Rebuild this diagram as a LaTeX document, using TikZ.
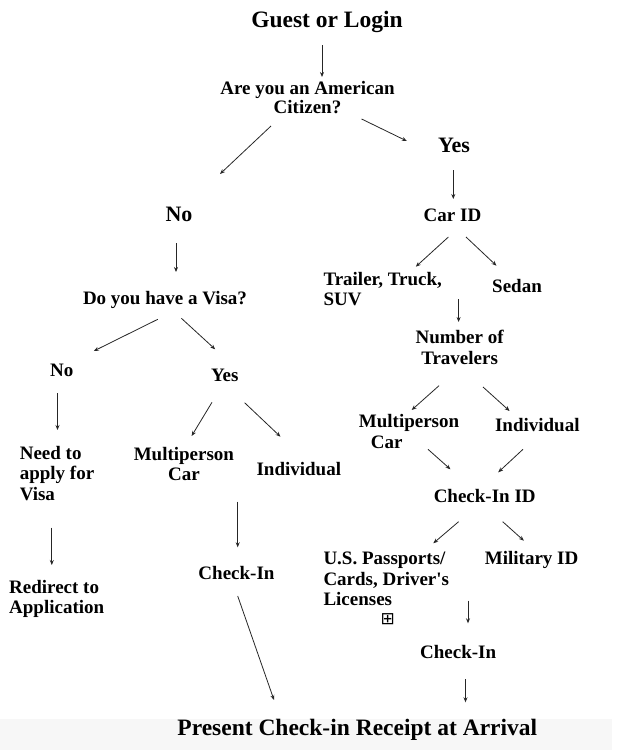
\documentclass[tikz,border=0pt]{standalone}
\usepackage{fontspec}
\setmainfont{Liberation Serif}
\newfontfamily\symfont{DejaVu Sans}
\usetikzlibrary{arrows.meta}
\tikzset{
  x=1pt,y=-1pt,
  lbl/.style={inner sep=0pt,anchor=base,font=\fontsize{19}{20.5}\selectfont\bfseries,align=center},
  lbll/.style={lbl,anchor=base west,align=left},
  big/.style={lbl,font=\fontsize{22}{24}\selectfont\bfseries},
  title/.style={lbl,font=\fontsize{23.5}{26}\selectfont\bfseries},
  arrow/.style={draw=black!85,line width=0.8pt,-{Stealth[length=5pt,width=4pt]}}
}
\newcommand\arrw[3]{\coordinate (#1s) at #2; \coordinate (#1e) at #3; \draw[arrow] (#1s) -- (#1e);}
\begin{document}
\begin{tikzpicture}
\useasboundingbox (0,0) rectangle (639,750);
\fill[black!3] (0,719) rectangle (612,750);
% nodes (multi-line nodes are placed at the baseline of their last line)
\node[title] (guest) at (327,27.5) {Guest or Login};
\node[lbl,font=\fontsize{19}{19.5}\selectfont\bfseries] (amer) at (307.5,113.5) {Are you an American\\Citizen?};
\node[big] (yes1) at (454,152.5) {Yes};
\node[big] (no1) at (179,221.5) {No};
\node[lbl] (carid) at (452.5,221.5) {Car ID};
\node[lbl] (visa) at (165,304) {Do you have a Visa?};
\node[lbll,font=\fontsize{19}{20}\selectfont\bfseries] (trailer) at (323.3,305.7) {Trailer, Truck,\\SUV};
\node[lbl] (sedan) at (517,292.3) {Sedan};
\node[lbl] (number) at (459.6,364) {Number of\\Travelers};
\node[lbll] (multiR) at (358.7,448.3) {Multiperson\\\hspace*{12pt}Car};
\node[lbl] (indivR) at (537.3,431.7) {Individual};
\node[lbl] (checkid) at (484.7,502.3) {Check-In ID};
\node[lbl] (no2) at (61.8,376) {No};
\node[lbl] (yes2) at (224.8,381) {Yes};
\node[lbll] (need) at (19.6,500) {Need to\\apply for\\Visa};
\node[lbl] (multiL) at (183.9,480.7) {Multiperson\\Car};
\node[lbl] (indivL) at (298.8,475) {Individual};
\node[lbll] (redirect) at (9,613.7) {Redirect to\\Application};
\node[lbl] (checkinL) at (236.5,579.3) {Check-In};
\node[lbll] (uspass) at (323.3,605.5) {U.S. Passports/\\Cards, Driver\textquotesingle s\\Licenses};
\node[lbl] (military) at (531.6,564) {Military ID};
\node[inner sep=0pt,font=\fontsize{17}{17}\symfont] (boxsym) at (387.8,619.3) {⊞};
\node[lbl] (checkinR) at (458.2,658.3) {Check-In};
\node[title] (present) at (357.3,735) {Present Check-in Receipt at Arrival};
% arrows
\arrw{a1}{(322,45)}{(322,77)}
\arrw{a2}{(271,126)}{(220,174)}
\arrw{a3}{(361.6,119)}{(406.8,141)}
\arrw{a4}{(453.3,170)}{(453.3,199)}
\arrw{a5}{(176,243)}{(176,272)}
\arrw{a6}{(448.4,237)}{(415.8,266.7)}
\arrw{a7}{(466,237)}{(496.5,265.7)}
\arrw{a8}{(458.6,299)}{(458.6,322)}
\arrw{a9}{(439,385.7)}{(411.7,410)}
\arrw{a10}{(483,387)}{(509.6,411)}
\arrw{a11}{(428,449.3)}{(450.5,469.3)}
\arrw{a12}{(523,449.3)}{(498.2,472.3)}
\arrw{a13}{(157.8,319.3)}{(93.8,351)}
\arrw{a14}{(181.4,318.3)}{(215.2,349.3)}
\arrw{a15}{(57.5,393.3)}{(57.5,430)}
\arrw{a16}{(212,402.3)}{(191.6,436)}
\arrw{a17}{(244.6,402.7)}{(280.5,436.7)}
\arrw{a18}{(51.8,527.7)}{(51.8,565)}
\arrw{a19}{(237.7,501.7)}{(237.7,547.3)}
\arrw{a20}{(237.7,596)}{(274,700)}
\arrw{a21}{(458.6,521.7)}{(433.3,543.3)}
\arrw{a22}{(502.7,521.7)}{(523.9,540.7)}
\arrw{a23}{(468,600.7)}{(468,623.3)}
\arrw{a24}{(465.5,679)}{(465.5,702.3)}
\end{tikzpicture}
\end{document}
